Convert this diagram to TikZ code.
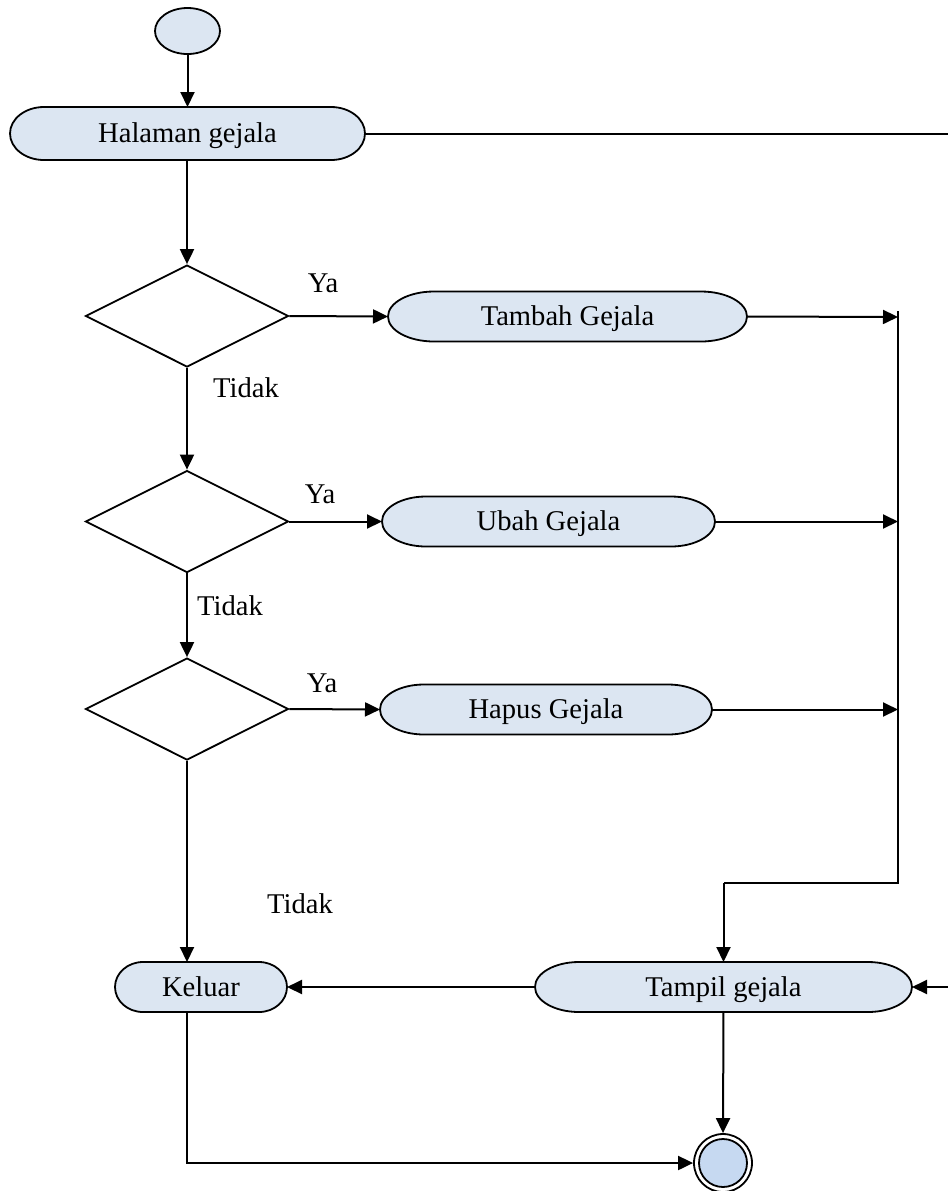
\documentclass[tikz,border=0pt]{standalone}
\usepackage{fontspec}
\setmainfont{Liberation Serif}
\usetikzlibrary{arrows.meta,shapes.geometric,backgrounds}
\definecolor{actfill}{HTML}{DCE6F2}
\definecolor{endfill}{HTML}{C6D9F1}
\newcommand\capsuleoutline[3]{%
  \draw[capline] ([xshift=#2]#1.north west) -- ([xshift=-#2]#1.north east)
    arc[start angle=90,end angle=-90,x radius=#2,y radius=#3]
    -- ([xshift=#2]#1.south west)
    arc[start angle=270,end angle=90,x radius=#2,y radius=#3] -- cycle;}
\begin{document}
\begin{tikzpicture}[x=0.5pt,y=-0.5pt,
  every node/.style={font=\fontsize{14.3}{17}\selectfont},
  act/.style={rectangle, draw=none, minimum height=25pt, inner sep=0pt, outer sep=0pt, text height=9.4pt, text depth=0pt},
  capline/.style={draw, line width=0.9pt, fill=actfill},
  dec/.style={diamond, draw, line width=0.9pt, minimum width=101.5pt, minimum height=51pt, inner sep=0pt},
  lbl/.style={inner sep=0pt},
  flow/.style={line width=1pt, -{Triangle[length=7.5pt,width=7pt]}},
  plain/.style={line width=1pt}]
\useasboundingbox (0,0) rectangle (948,1191);
% nodes
\node[ellipse, draw, line width=0.9pt, fill=actfill, minimum width=32.5pt, minimum height=23pt, inner sep=0pt] (start) at (187.5,31) {};
\node[act, minimum width=177.5pt, minimum height=26.5pt] (hal) at (187.5,133.5) {Halaman gejala};
\node[dec] (d1) at (187,316) {};
\node[dec] (d2) at (187,521.5) {};
\node[dec] (d3) at (187,709) {};
\node[act, minimum width=179.5pt] (tam) at (567.5,316.5) {Tambah Gejala};
\node[act, minimum width=166.5pt] (ubah) at (548.5,521.5) {Ubah Gejala};
\node[act, minimum width=166pt] (hap) at (546,709.5) {Hapus Gejala};
\node[act, minimum width=86pt] (kel) at (201,987) {Keluar};
\node[act, minimum width=188.5pt] (tg) at (723.5,987) {Tampil gejala};
\node[circle, draw, line width=0.9pt, fill=white, minimum size=29pt, inner sep=0pt] (endo) at (723,1163) {};
\node[circle, draw, line width=0.9pt, fill=endfill, minimum size=24pt, inner sep=0pt] (endi) at (723,1163) {};
\begin{scope}[on background layer]
\capsuleoutline{hal}{17pt}{13.25pt}
\capsuleoutline{tam}{23pt}{12.5pt}
\capsuleoutline{ubah}{22pt}{12.5pt}
\capsuleoutline{hap}{22pt}{12.5pt}
\capsuleoutline{kel}{14pt}{12.5pt}
\capsuleoutline{tg}{22pt}{12.5pt}
\end{scope}
% labels
\node[lbl] (ya1) at (323,283) {Ya};
\node[lbl] (ya2) at (320,494) {Ya};
\node[lbl] (ya3) at (322,683) {Ya};
\node[lbl] (t1) at (246,388) {Tidak};
\node[lbl] (t2) at (230,606) {Tidak};
\node[lbl] (t3) at (300,904) {Tidak};
% coordinates
\coordinate (r1) at (948,133.5);
\coordinate (r2) at (948,987);
\coordinate (bt) at (898,311);
\coordinate (bb) at (898,883);
\coordinate (b1) at (898,317);
\coordinate (b2) at (898,521.5);
\coordinate (b3) at (898,709.5);
\coordinate (tj) at (723.5,883);
\coordinate (kb) at (187,1163);
% connectors
\draw[flow] (start) -- (start |- hal.north);
\draw[plain] (hal.east) -- (r1);
\draw[flow] (hal.south -| d1.north) -- (d1.north);
\draw[flow] (d1.east) -- (tam.west);
\draw[flow] (d1.south) -- (d2.north);
\draw[flow] (d2.east) -- (ubah.west);
\draw[flow] (d2.south) -- (d3.north);
\draw[flow] (d3.east) -- (hap.west);
\draw[flow] (d3.south) -- (kel.north -| d3.south);
\draw[flow] (tam.east) -- (b1);
\draw[flow] (ubah.east) -- (b2);
\draw[flow] (hap.east) -- (b3);
\draw[plain] (bt) -- (bb) -- (tj);
\draw[flow] (tj) -- (tg.north);
\draw[flow] (tg.west) -- (kel.east);
\draw[flow] (r2) -- (tg.east);
\draw[flow] (tg.south) -- (endo.north);
\draw[flow] (kel.south -| d3.south) -- (kb) -- (endo.west);
\end{tikzpicture}
\end{document}
